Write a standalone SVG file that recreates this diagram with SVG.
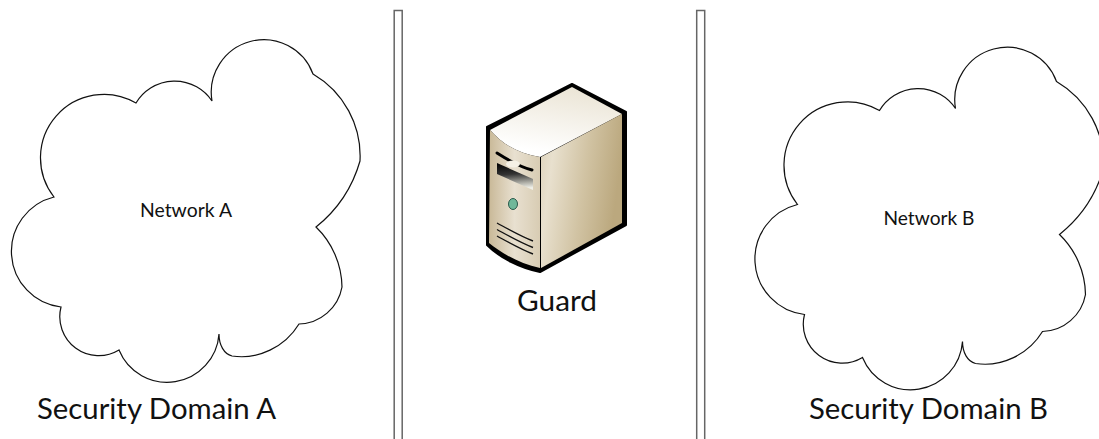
<svg xmlns="http://www.w3.org/2000/svg" width="1099" height="439" viewBox="0 0 1099 439">
<style>
text{font-family:"Lato","Carlito","Liberation Sans",sans-serif;fill:#111}
.small{font-size:18.5px}
.big{font-size:28px}
.cloud{fill:#fff;stroke:#111;stroke-width:1.2}
.wall{fill:#fff;stroke:#666;stroke-width:1.5}
.vent{fill:none;stroke:#111;stroke-width:1.4}
</style>
<defs>
<path id="cloudShape" d="M54 197A63.500 63.500 0 0 1 136 103A45 45 0 0 1 212 101A52.500 52.500 0 0 1 313 74A95 95 0 0 1 360 161A130 130 0 0 1 316 227A85 85 0 0 1 342 287A45 45 0 0 1 299 324C285 347 258 360 232 356C224 354 219 345 219 334A52 52 0 0 1 119 350A39 39 0 0 1 61 307A56 56 0 0 1 54 197Z"/>
<linearGradient id="gRight" x1="0" x2="1" y1="0" y2="0.25"><stop offset="0" stop-color="#dcd1b9"/><stop offset=".2" stop-color="#e8e0ce"/><stop offset=".6" stop-color="#d1c3a3"/><stop offset="1" stop-color="#bba87e"/></linearGradient>
<linearGradient id="gLeft" x1="0" x2="1" y1="0" y2="0"><stop offset="0" stop-color="#c9b998"/><stop offset=".5" stop-color="#e8e0d0"/><stop offset="1" stop-color="#d8ccb3"/></linearGradient>
<linearGradient id="gTop" x1="0.3" x2="0.6" y1="0.9" y2="0"><stop offset="0" stop-color="#fff"/><stop offset="1" stop-color="#ebe5d6"/></linearGradient>
<linearGradient id="gDrive" x1="0" x2="0.1" y1="0" y2="1"><stop offset="0" stop-color="#000"/><stop offset=".45" stop-color="#333"/><stop offset=".8" stop-color="#b0b0a8"/><stop offset="1" stop-color="#f0f0e8"/></linearGradient>
</defs>
<g id="wall-left"><rect class="wall" x="394.2" y="10.5" width="8" height="440"/></g>
<g id="wall-right"><rect class="wall" x="696.7" y="10.5" width="8" height="440"/></g>
<g id="cloud-a"><use href="#cloudShape" class="cloud"/><text class="small" x="186" y="217" text-anchor="middle" textLength="92" lengthAdjust="spacingAndGlyphs">Network A</text></g>
<g id="cloud-b"><use href="#cloudShape" class="cloud" x="743.5" y="7.5"/><text class="small" x="929" y="225" text-anchor="middle" textLength="91" lengthAdjust="spacingAndGlyphs">Network B</text></g>
<g id="guard">
<path d="M487 127L572 84L626 112V225L540 272C520 268 500 258 487 245Z" fill="#000" stroke="#000" stroke-width="2" stroke-linejoin="round"/>
<path d="M490 130L572 87L622 114L540 157C520 154 503 145 490 130Z" fill="url(#gTop)"/>
<path d="M490 130C503 145 520 154 540 157V268C520 264 503 254 489 243Z" fill="url(#gLeft)"/>
<path d="M541 157L622 114V223L541 268Z" fill="url(#gRight)"/>
<path d="M497 153C508 160 520 167 532 170" stroke="#000" stroke-width="3" stroke-linecap="round" fill="none"/>
<ellipse cx="513" cy="164" rx="7" ry="3.500" fill="#f5f1e6"/>
<path d="M497 163L533 179V190L497 174Z" fill="url(#gDrive)"/>
<ellipse cx="513" cy="204" rx="4.500" ry="5.500" fill="#6fb89a" stroke="#2c5a4c" stroke-width="1"/>
<path class="vent" d="M497 223C508 229 520 236 533 241M497 229.500C508 235.500 520 242.500 533 247.500M497 236C508 242 520 249 533 254"/>
<text class="big" x="557" y="311" text-anchor="middle" textLength="80" lengthAdjust="spacingAndGlyphs">Guard</text>
</g>
<text class="big" x="37" y="419" textLength="239" lengthAdjust="spacingAndGlyphs">Security Domain A</text>
<text class="big" x="809" y="419" textLength="239" lengthAdjust="spacingAndGlyphs">Security Domain B</text>
<g id="connectors"></g>
</svg>
